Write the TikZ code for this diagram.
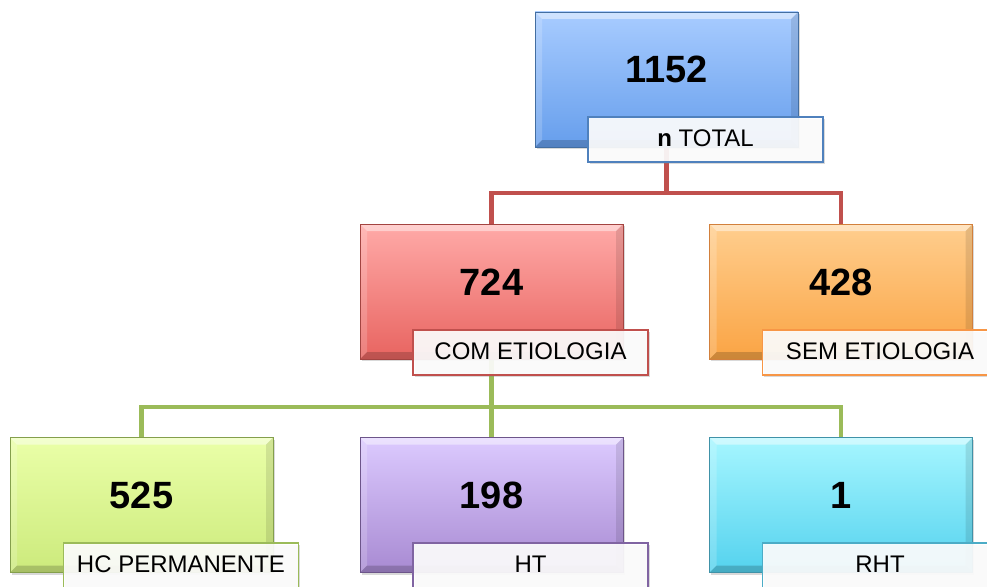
\documentclass[tikz,border=0pt]{standalone}
\usepackage{fontspec}
\setmainfont{Liberation Sans}
\usetikzlibrary{shadows,backgrounds}
\definecolor{blueT}{RGB}{168,204,255}\definecolor{blueB}{RGB}{102,158,236}\definecolor{blueE}{RGB}{79,129,189}
\definecolor{redT}{RGB}{255,170,168}\definecolor{redB}{RGB}{232,100,96}\definecolor{redE}{RGB}{192,80,77}
\definecolor{oraT}{RGB}{255,206,142}\definecolor{oraB}{RGB}{250,164,68}\definecolor{oraE}{RGB}{247,150,70}
\definecolor{grnT}{RGB}{234,255,168}\definecolor{grnB}{RGB}{204,234,124}\definecolor{grnE}{RGB}{155,187,89}
\definecolor{purT}{RGB}{220,202,255}\definecolor{purB}{RGB}{168,138,210}\definecolor{purE}{RGB}{128,100,162}
\definecolor{cyaT}{RGB}{166,246,255}\definecolor{cyaB}{RGB}{84,210,238}\definecolor{cyaE}{RGB}{75,172,198}
\tikzset{
  cbox/.style n args={3}{minimum width=263pt, minimum height=135pt, inner sep=0pt,
    top color=#1, bottom color=#2, draw=#3!85!black, line width=0.6pt,
    drop shadow={opacity=0.3, shadow xshift=1.5pt, shadow yshift=-2pt},
    path picture={
      \fill[white,opacity=0.45] (path picture bounding box.north west) -- (path picture bounding box.north east)
        -- ([shift={(-7pt,-7pt)}]path picture bounding box.north east) -- ([shift={(7pt,-7pt)}]path picture bounding box.north west) -- cycle;
      \fill[white,opacity=0.18] (path picture bounding box.north west) -- ([shift={(7pt,-7pt)}]path picture bounding box.north west)
        -- ([shift={(7pt,7pt)}]path picture bounding box.south west) -- (path picture bounding box.south west) -- cycle;
      \fill[black,opacity=0.10] (path picture bounding box.north east) -- ([shift={(-7pt,-7pt)}]path picture bounding box.north east)
        -- ([shift={(-7pt,7pt)}]path picture bounding box.south east) -- (path picture bounding box.south east) -- cycle;
      \fill[black,opacity=0.18] (path picture bounding box.south west) -- ([shift={(7pt,7pt)}]path picture bounding box.south west)
        -- ([shift={(-7pt,7pt)}]path picture bounding box.south east) -- (path picture bounding box.south east) -- cycle;
    }},
  numtxt/.style={font=\bfseries\fontsize{38}{40}\selectfont, inner sep=0pt, text height=27.2pt, text depth=0pt},
  lbl/.style={minimum width=235pt, minimum height=45pt, inner sep=0pt, draw=#1, line width=1.2pt,
    fill=white, fill opacity=0.9, text opacity=1, font=\fontsize{24}{26}\selectfont,
    text height=17.2pt, text depth=3.6pt,
    drop shadow={opacity=0.3, shadow xshift=1.5pt, shadow yshift=-2pt}},
  conn/.style={line width=4.5pt, draw=#1},
}
\begin{document}
\begin{tikzpicture}[x=1pt,y=-1pt]
\useasboundingbox (0,0) rectangle (987,586);
\clip (0,0) rectangle (987,586);
% boxes
\node[cbox={blueT}{blueB}{blueE}] (b0) at (666.5,79.5) {};
\node[cbox={redT}{redB}{redE}] (m1) at (491.5,291.5) {};
\node[cbox={oraT}{oraB}{oraE}] (m2) at (841,291.5) {};
\node[cbox={grnT}{grnB}{grnE}] (c1) at (141.5,505) {};
\node[cbox={purT}{purB}{purE}] (c2) at (491.5,505) {};
\node[cbox={cyaT}{cyaB}{cyaE}] (c3) at (841,505) {};
% numbers
\node[numtxt] (t0) at (666.5,69) {1152};
\node[numtxt] (t1) at (491.5,282) {724};
\node[numtxt] (t2) at (841,282) {428};
\node[numtxt] (t3) at (141.5,495) {525};
\node[numtxt] (t4) at (491.5,495) {198};
\node[numtxt] (t5) at (841,495) {1};
% labels
\node[lbl=blueE] (l0) at (705.5,139.5) {\textbf{n} TOTAL};
\node[lbl=redE] (l1) at (530.5,352.5) {COM ETIOLOGIA};
\node[lbl=oraE] (l2) at (880,352.5) {SEM ETIOLOGIA};
\node[lbl=grnE] (k1) at (181,565.5) {HC PERMANENTE};
\node[lbl=purE] (k2) at (530.5,565.5) {HT};
\node[lbl=cyaE] (k3) at (880,565.5) {RHT};
% connectors
\coordinate (j1) at (666.5,193);
\coordinate (j2) at (491.5,407);
\begin{pgfonlayer}{background}
\draw[conn=redE] (b0.south) -- (j1) -| (m1.north);
\draw[conn=redE] (j1) -| (m2.north);
\draw[conn=grnE] (m1.south) -- (j2) -| (c1.north);
\draw[conn=grnE] (j2) -- (c2.north);
\draw[conn=grnE] (j2) -| (c3.north);
\end{pgfonlayer}
\end{tikzpicture}
\end{document}
